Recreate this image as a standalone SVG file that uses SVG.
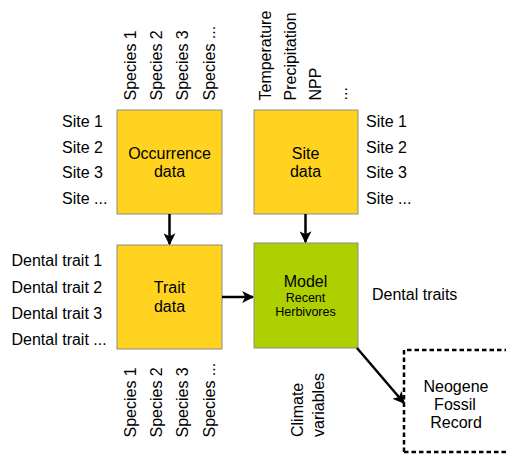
<svg xmlns="http://www.w3.org/2000/svg" width="506" height="454" viewBox="0 0 506 454">
<defs>
<style>
text{font-family:"Liberation Sans",Arial,sans-serif;font-size:16px;fill:#000}
.box{stroke:#8c8c8c;stroke-width:1}
.y{fill:#ffd320}
.g{fill:#aecf00}
.c{text-anchor:middle}
.s{font-size:12.5px}
.edge{stroke:#000;stroke-width:2.5;fill:none}
</style>
<marker id="ah" viewBox="0 0 10 10" refX="9" refY="5" markerWidth="4.8" markerHeight="4.8" orient="auto" markerUnits="strokeWidth">
<path d="M0,0 L10,5 L0,10 L2.5,5 z" fill="#000"/>
</marker>
</defs>
<rect width="506" height="454" fill="#fff"/>

<g id="labels-top">
<text transform="translate(136,100.5) rotate(-90)">Species 1</text>
<text transform="translate(162,100.5) rotate(-90)">Species 2</text>
<text transform="translate(188,100.5) rotate(-90)">Species 3</text>
<text transform="translate(214.5,100.5) rotate(-90)">Species ...</text>
<text transform="translate(271,100.5) rotate(-90)">Temperature</text>
<text transform="translate(296,100.5) rotate(-90)">Precipitation</text>
<text transform="translate(321,100.5) rotate(-90)">NPP</text>
<text transform="translate(347,100.5) rotate(-90)">...</text>
</g>

<g id="labels-sites">
<text x="62" y="127">Site 1</text>
<text x="62" y="152.5">Site 2</text>
<text x="62" y="178">Site 3</text>
<text x="62" y="203.5">Site ...</text>
<text x="366" y="127">Site 1</text>
<text x="366" y="152.5">Site 2</text>
<text x="366" y="178">Site 3</text>
<text x="366" y="203.5">Site ...</text>
</g>

<g id="labels-traits">
<text x="11.5" y="266">Dental trait 1</text>
<text x="11.5" y="292.5">Dental trait 2</text>
<text x="11.5" y="319">Dental trait 3</text>
<text x="11.5" y="345">Dental trait ...</text>
<text x="372" y="300">Dental traits</text>
</g>

<g id="labels-bottom">
<text transform="translate(136,437.5) rotate(-90)">Species 1</text>
<text transform="translate(162,437.5) rotate(-90)">Species 2</text>
<text transform="translate(188,437.5) rotate(-90)">Species 3</text>
<text transform="translate(214.5,437.5) rotate(-90)">Species ...</text>
<text transform="translate(303,437) rotate(-90)">Climate</text>
<text transform="translate(324,437) rotate(-90)">variables</text>
</g>

<g id="occurrence">
<rect class="box y" x="117" y="110" width="105" height="104"/>
<text class="c" x="169.5" y="159">Occurrence</text>
<text class="c" x="169.5" y="177">data</text>
</g>

<g id="site">
<rect class="box y" x="254" y="110" width="104" height="104"/>
<text class="c" x="305.5" y="159">Site</text>
<text class="c" x="305.5" y="177">data</text>
</g>

<g id="trait">
<rect class="box y" x="117" y="245" width="105" height="104"/>
<text class="c" x="169.5" y="293">Trait</text>
<text class="c" x="169.5" y="311.5">data</text>
</g>

<g id="model">
<rect class="box g" x="254" y="243" width="104" height="105"/>
<text class="c" x="305.5" y="286.5">Model</text>
<text class="c s" x="305.5" y="302">Recent</text>
<text class="c s" x="305.5" y="316">Herbivores</text>
</g>

<g id="neogene">
<path d="M404,452 V350 H506 M404,452 H506" fill="none" stroke="#000" stroke-width="2.5" stroke-dasharray="4.5,3"/>
<text class="c" x="456" y="392">Neogene</text>
<text class="c" x="455" y="410">Fossil</text>
<text class="c" x="456" y="428">Record</text>
</g>

<g id="connectors">
<line class="edge" x1="169.5" y1="214" x2="169.5" y2="244" marker-end="url(#ah)"/>
<line class="edge" x1="305.5" y1="214" x2="305.5" y2="242" marker-end="url(#ah)"/>
<line class="edge" x1="222" y1="297" x2="253" y2="297" marker-end="url(#ah)"/>
<line class="edge" x1="357" y1="348" x2="404" y2="403" marker-end="url(#ah)"/>
</g>
</svg>
